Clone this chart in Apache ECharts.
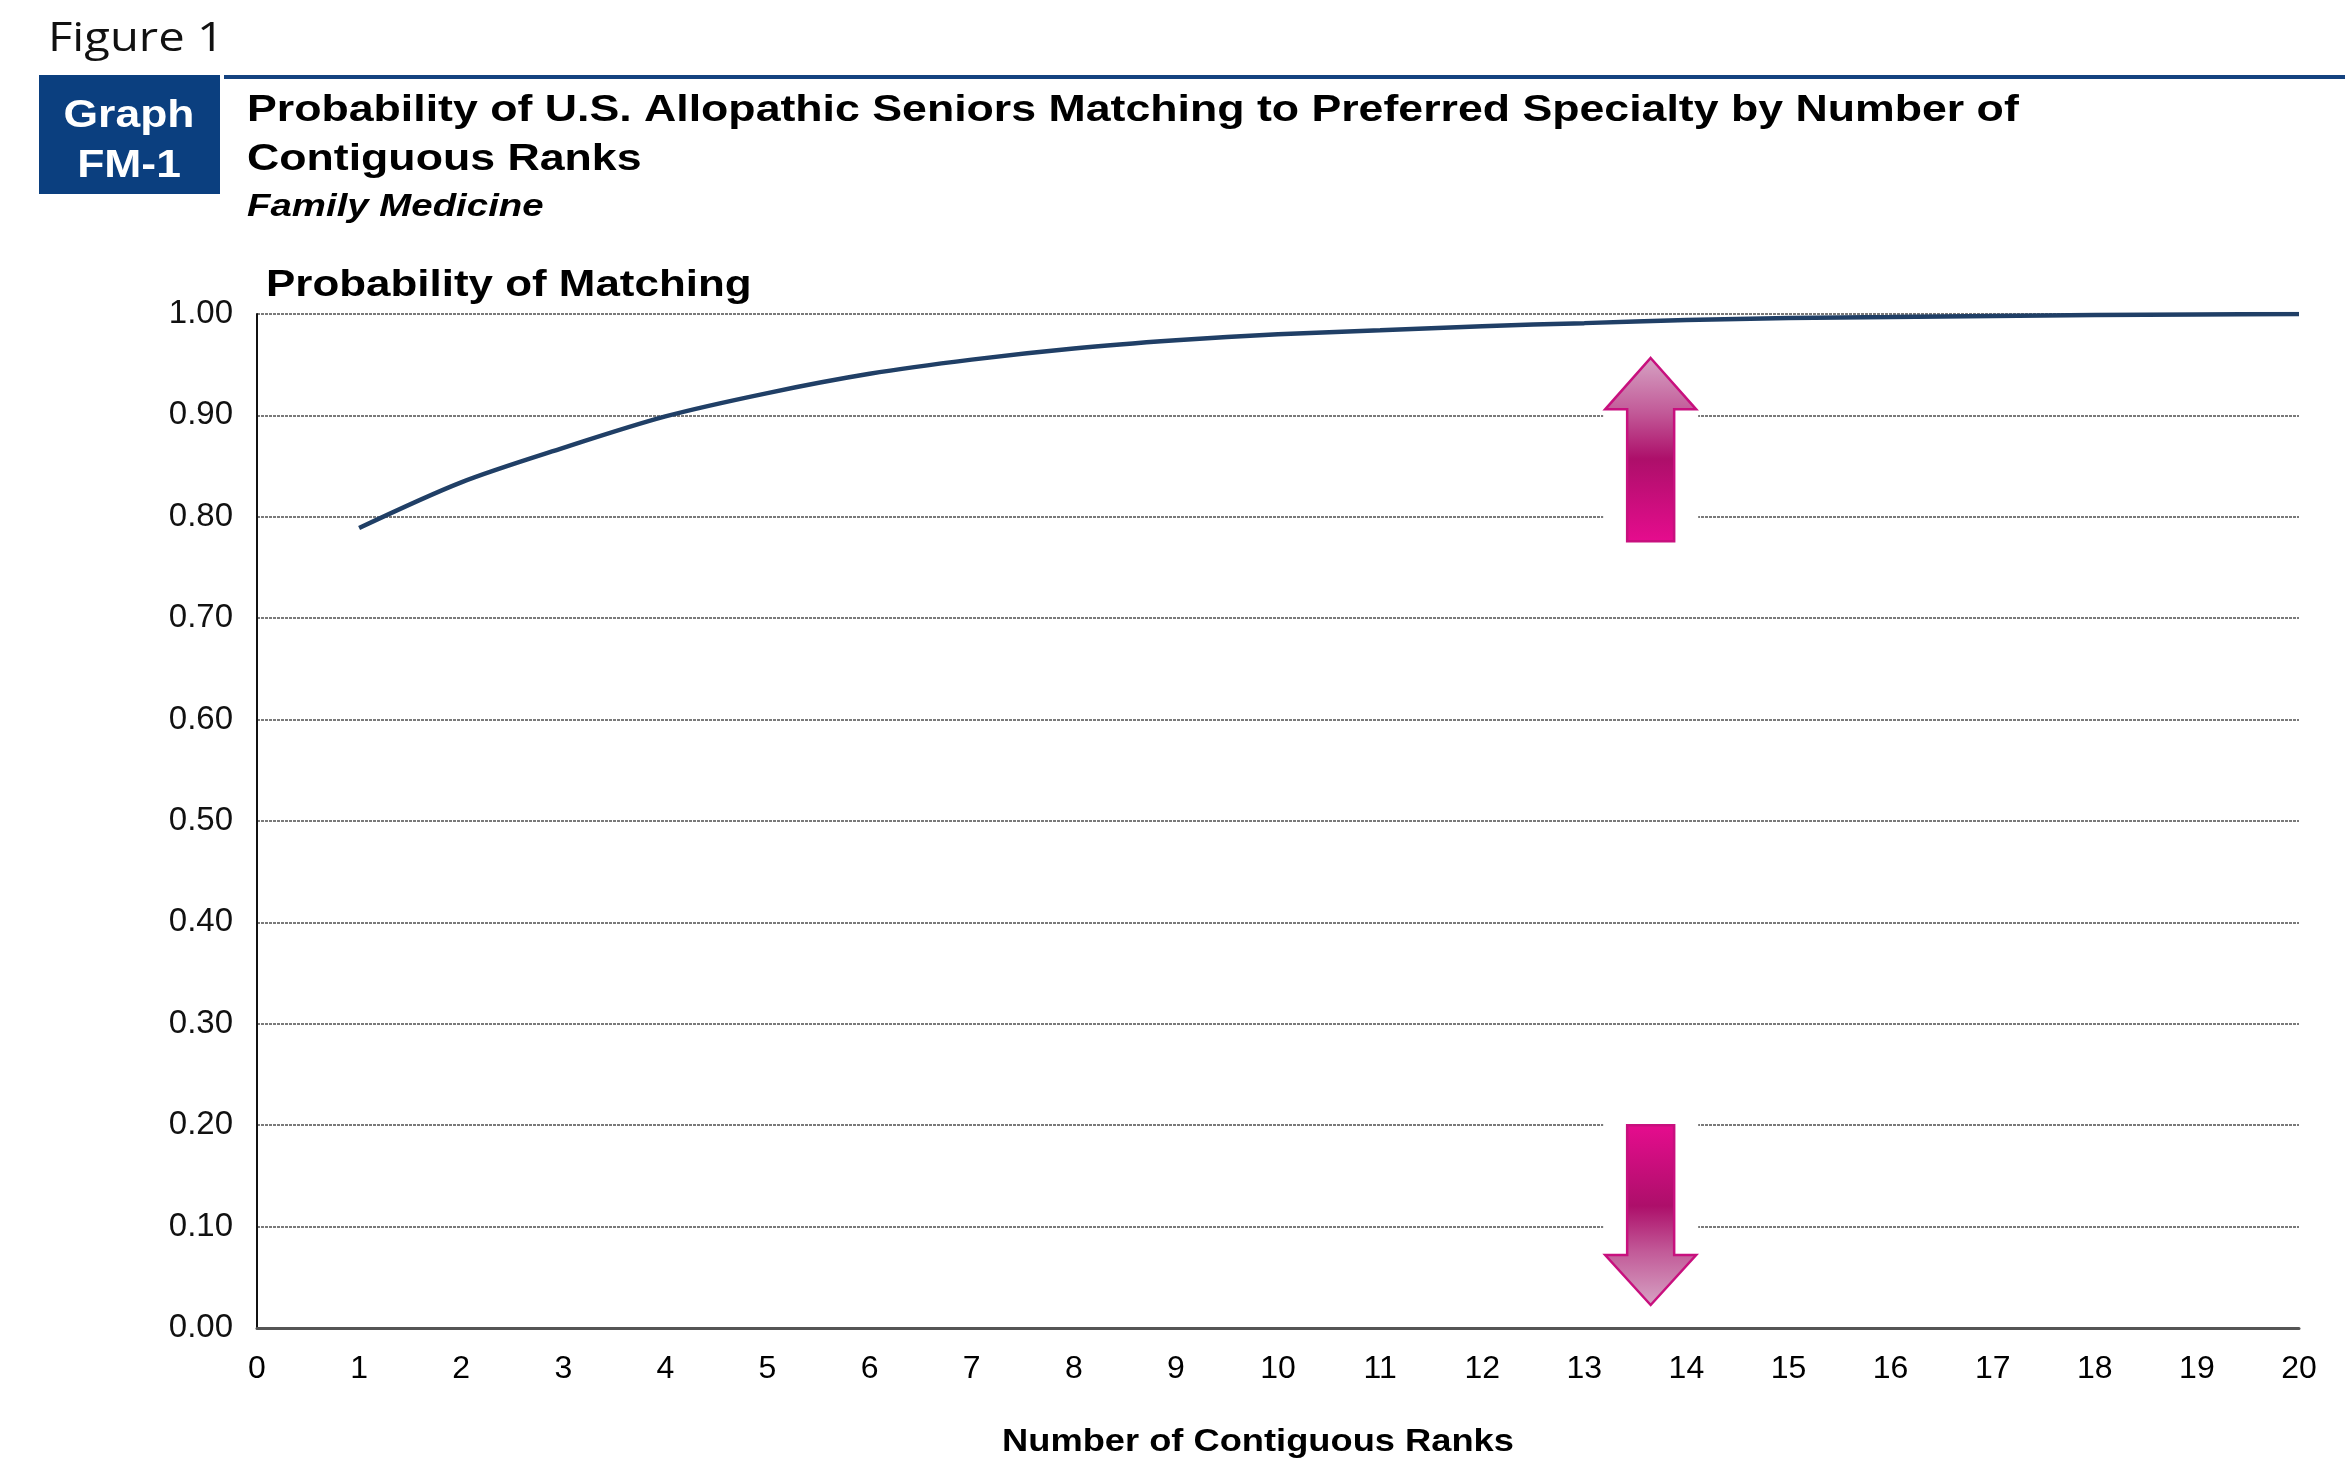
<!DOCTYPE html>
<html>
<head>
<meta charset="utf-8">
<script src="https://cdn.jsdelivr.net/npm/echarts@6/dist/echarts.min.js"></script>
<style>
  html, body { margin: 0; padding: 0; background: #fff; }
  #chart { width: 2345px; height: 1462px; }
</style>
</head>
<body>
<div id="chart"></div>
<script>
// number of contiguous ranks (x) and probability of matching (y)
var ranks = [1, 2, 3, 4, 5, 6, 7, 8, 9, 10, 11, 12, 13, 14, 15, 16, 17, 18, 19, 20];
var probMatch = [0.789, 0.834, 0.868, 0.899, 0.922, 0.941, 0.955, 0.966, 0.974, 0.980,
                 0.984, 0.988, 0.991, 0.994, 0.996, 0.997, 0.998, 0.999, 0.9995, 1.0];

var figureLabel = 'Figure 1';
var graphLabel = ['Graph', 'FM-1'];
var titleLines = ['Probability of U.S. Allopathic Seniors Matching to Preferred Specialty by Number of',
                  'Contiguous Ranks'];
var subTitle = 'Family Medicine';
var yName = 'Probability of Matching';
var xName = 'Number of Contiguous Ranks';

var font = '"Liberation Sans", Arial, sans-serif';
var navy = '#0b3f7f';

var chart = echarts.init(document.getElementById('chart'));

chart.setOption({
  backgroundColor: '#fff',
  animation: false,
  grid: { left: 257, right: 46, top: 314, bottom: 134 },
  xAxis: {
    type: 'value',
    min: 0,
    max: 20,
    interval: 1,
    axisLine: { show: true, lineStyle: { color: '#555', width: 3 } },
    axisTick: { show: false },
    splitLine: { show: false },
    axisLabel: { margin: 25, fontFamily: font, fontSize: 32, color: '#000' }
  },
  yAxis: {
    type: 'value',
    min: 0,
    max: 1,
    interval: 0.1,
    axisLine: { show: true, lineStyle: { color: '#111', width: 2 } },
    axisTick: { show: false },
    splitLine: { show: true, lineStyle: { color: '#7a7a7a', width: 2, type: [3, 1] } },
    axisLabel: {
      margin: 24, fontFamily: font, fontSize: 33, color: '#111',
      formatter: function (v) { return v.toFixed(2); }
    }
  },
  series: [{
    type: 'line',
    data: ranks.map(function (r, i) { return [r, probMatch[i]]; }),
    smooth: 0.3,
    showSymbol: false,
    lineStyle: { color: '#203f66', width: 4.5 },
    z: 3
  }]
});

function px(x, y) {
  return chart.convertToPixel({ gridIndex: 0 }, [x, y]);
}

// arrow annotations (anchored on the data coordinates)
var arrowX = 13.65;
var headHalf = 45.5;
var shaftHalf = 23.5;

function arrow(yTip, yBase, yEnd, up) {
  var tip = px(arrowX, yTip);
  var cx = tip[0];
  var t = tip[1];
  var b = px(arrowX, yBase)[1];
  var e = px(arrowX, yEnd)[1];
  var pts = [[cx, t], [cx + headHalf, b], [cx + shaftHalf, b], [cx + shaftHalf, e],
             [cx - shaftHalf, e], [cx - shaftHalf, b], [cx - headHalf, b]];
  var stops = [
    { offset: 0, color: '#d6a4c4' },
    { offset: 0.3, color: '#c25a98' },
    { offset: 0.55, color: '#ad0f6a' },
    { offset: 1, color: '#e60c8e' }
  ];
  var top = Math.min(t, e), bottom = Math.max(t, e);
  return [
    {
      type: 'rect', z: 40,
      shape: { x: cx - headHalf - 2, y: top - 3, width: headHalf * 2 + 4, height: bottom - top + 6 },
      style: { fill: '#fff' }
    },
    {
      type: 'polygon', z: 41,
      shape: { points: pts },
      style: {
        fill: {
          type: 'linear', x: 0, y: up ? 0 : 1, x2: 0, y2: up ? 1 : 0,
          colorStops: stops
        },
        stroke: '#c8107e', lineWidth: 2.5
      }
    }
  ];
}

function label(text, x, y, f, sx, opts) {
  var st = { text: text, font: f, fill: '#000', textVerticalAlign: 'middle' };
  if (opts) {
    for (var k in opts) st[k] = opts[k];
  }
  return { type: 'text', x: x, y: y, scaleX: sx, z: 10, style: st };
}

var graphics = [
  label(figureLabel, 48, 40, '40px "Open Sans", sans-serif', 1.18, { fill: '#111' }),
  {
    type: 'rect', z: 10,
    shape: { x: 39, y: 75, width: 181, height: 119 },
    style: { fill: navy }
  },
  {
    type: 'line', z: 10,
    shape: { x1: 224, y1: 77, x2: 2345, y2: 77 },
    style: { stroke: '#14427f', lineWidth: 4 }
  },
  label(graphLabel[0], 129, 116, 'bold 39px ' + font, 1.14, { fill: '#fff', textAlign: 'center' }),
  label(graphLabel[1], 129, 166, 'bold 39px ' + font, 1.14, { fill: '#fff', textAlign: 'center' }),
  label(titleLines[0], 247, 111, 'bold 37px ' + font, 1.207),
  label(titleLines[1], 247, 160, 'bold 37px ' + font, 1.207),
  label(subTitle, 247, 207, 'italic bold 32px ' + font, 1.2),
  label(yName, 266, 286, 'bold 36px ' + font, 1.22),
  label(xName, 1258, 1442, 'bold 31px ' + font, 1.17, { textAlign: 'center' })
];

graphics = graphics.concat(arrow(0.9566, 0.906, 0.776, true));
graphics = graphics.concat(arrow(0.0227, 0.072, 0.2, false));

chart.setOption({ graphic: graphics });
</script>
</body>
</html>
